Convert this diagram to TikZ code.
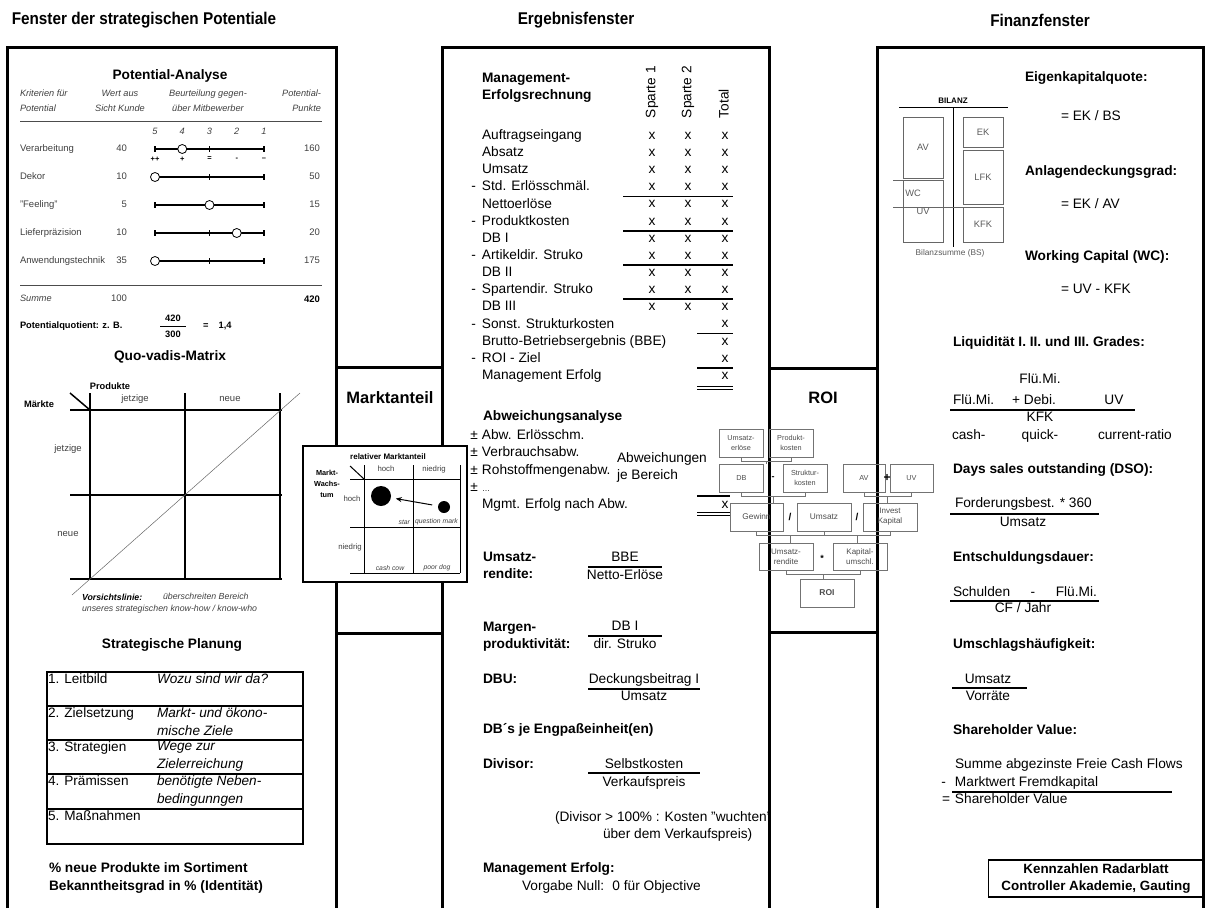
\documentclass[tikz,border=0pt]{standalone}
\usepackage{fontspec}
\setmainfont{Liberation Sans}
\newfontfamily\narrowfont{Liberation Sans}[FakeStretch=0.9]
\usetikzlibrary{arrows.meta,positioning,calc}
\newcommand\fsz[2]{\fontsize{#1}{#2}\selectfont}

\begin{document}
\begin{tikzpicture}[x=1pt,y=-1pt,
    every node/.style={inner sep=0pt,outer sep=0pt},
    wtitle/.style={font=\narrowfont\bfseries\fsz{17}{19}},
    panel/.style={line width=3pt},
    sub/.style={font=\bfseries\fsz{13.7}{16}},
    tx/.style={font=\fsz{13.7}{17},anchor=west,align=left,execute at begin node={\vphantom{Ag}}},
    hd/.style={font=\bfseries\fsz{13.7}{17},anchor=west,align=left,execute at begin node={\vphantom{Ag}}},
    sm/.style={font=\fsz{9.5}{15},text=black!75,execute at begin node={\vphantom{Ag}}},
    smi/.style={font=\itshape\fsz{9.2}{15},text=black!75,execute at begin node={\vphantom{Ag}}},
    smb/.style={font=\bfseries\fsz{9.3}{11}},
    tiny/.style={font=\itshape\fsz{6.8}{8},text=black!75},
    scl/.style={line width=1.2pt},
    dot/.style={circle,draw,fill=white,line width=0.8pt,minimum size=9pt},
    grid/.style={line width=1.5pt},
    tab/.style={line width=2pt},
    rule/.style={line width=1.5pt},
    roibox/.style={draw=black!55,line width=0.6pt,minimum width=44pt,minimum height=28pt,
                   align=center,font=\fsz{7.3}{9.5},text=black!70},
    brk/.style={draw=black!55,line width=0.6pt},
    bbox/.style={draw=black!60,line width=0.6pt,minimum width=40pt,font=\fsz{9.3}{10},text=black!65},
  ]
  \useasboundingbox (0,0) rectangle (1205,908);

  % window titles and frames
  \node[wtitle] (tpot) at (144,20) {Fenster der strategischen Potentiale};
  \node[wtitle] (terg) at (576,20) {Ergebnisfenster};
  \node[wtitle] (tfin) at (1040,20) {Finanzfenster};
  \draw[panel] (7,908) |- (336,47) -- (336,908);
  \draw[panel] (442,908) |- (769,47) -- (769,908);
  \draw[panel] (877,908) |- (1203,47) -- (1203,908);
  \draw[panel] (336,367) -- (442,367);
  \draw[panel] (336,633) -- (442,633);
  \draw[panel] (769,368) -- (877,368);
  \draw[panel] (769,632) -- (877,632);
  \node[font=\bfseries\fsz{16.5}{18}] (mkt) at (390,398) {Marktanteil};
  \node[font=\bfseries\fsz{16.5}{18}] (roit) at (823,398) {ROI};

  % Potential-Analyse
  \node[sub] (pa) at (170,76) {Potential-Analyse};
  \node[smi,anchor=west,align=left] (krit) at (20,102) {Kriterien für\\Potential};
  \node[smi,align=center] (wert) at (120,102) {Wert aus\\Sicht Kunde};
  \node[smi,align=center] (beur) at (208,102) {Beurteilung gegen-\\über Mitbewerber};
  \node[smi,anchor=east,align=right] (ppkt) at (321,102) {Potential-\\Punkte};
  \draw[black!70] (20,121) -- (322,121);
  \foreach \n [count=\i] in {5,4,3,2,1}
    \node[smi] (sc\i) at ({155+27.25*(\i-1)},132) {\n};
  \foreach \lab/\w/\p/\pk [count=\i] in {Verarbeitung/40/2/160, Dekor/10/1/50,
      "Feeling"/5/3/15, Lieferpräzision/10/4/20, Anwendungstechnik/35/1/175}{
    \pgfmathsetmacro\yy{149+28*(\i-1)}
    \node[sm,anchor=west] (kr\i) at (20,\yy) {\lab};
    \node[sm,anchor=east] (wk\i) at (127,\yy) {\w};
    \node[sm,anchor=east] (pp\i) at (320,\yy) {\pk};
    \draw[scl] (155,\yy) -- (264,\yy);
    \foreach \t in {1,3,5}
      \draw[scl] ({155+27.25*(\t-1)},{\yy-3}) -- ++(0,6);
    \node[dot] (ci\i) at ({155+27.25*(\p-1)},\yy) {};
  }
  \foreach \s [count=\i] in {++,+,=,-,--}
    \node[smb,font=\bfseries\fsz{7.5}{8}] (sy\i) at ({155+27.25*(\i-1)},159) {\s};
  \draw[black!70] (20,285) -- (322,285);
  \node[smi,anchor=west] (sum) at (20,299) {Summe};
  \node[sm,anchor=east] (sumw) at (127,299) {100};
  \node[smb,font=\bfseries\fsz{9.5}{10},anchor=east] (sump) at (320,299) {420};
  \node[smb,anchor=west] (pq) at (20,326) {Potentialquotient: z. B.};
  \node[smb] (pqz) at (173,318) {420};
  \node[smb] (pqn) at (173,334) {300};
  \draw[line width=1pt] (160,326) -- (186,326);
  \node[smb,anchor=west] (pqe) at (203,326) {=\hspace{1.1em}1,4};

  % Quo-vadis-Matrix
  \node[sub] (qv) at (170,357) {Quo-vadis-Matrix};
  \node[smb] (prod) at (110,386) {Produkte};
  \node[sm] (qj1) at (135,399) {jetzige};
  \node[sm] (qn1) at (230,399) {neue};
  \node[smb] (mae) at (39,404) {Märkte};
  \node[sm] (qj2) at (68,449) {jetzige};
  \node[sm] (qn2) at (68,534) {neue};
  \foreach \yy in {410,495,579} \draw[grid] (70,\yy) -- (282,\yy);
  \foreach \xx in {90,185,280} \draw[grid] (\xx,393) -- (\xx,579);
  \draw[grid] (70,393) -- (90,410);
  \draw[black!60,line width=0.5pt] (72,595) -- (300,393);
  \node[smb,font=\bfseries\itshape\fsz{8.8}{9},anchor=west] (vl) at (82,597) {Vorsichtslinie:};
  \node[smi,font=\itshape\fsz{8.8}{9},anchor=west] (vl2) at (163,597) {überschreiten Bereich};
  \node[smi,font=\itshape\fsz{8.8}{9},anchor=west] (vl3) at (82,609) {unseres strategischen know-how / know-who};

  % Strategische Planung
  \node[sub] (spl) at (172,645) {Strategische Planung};
  \draw[tab] (47,672) rectangle (303,844);
  \foreach \yy in {706,740,774,809} \draw[tab] (47,\yy) -- (303,\yy);
  \node[tx,font=\fsz{13.6}{18}] (st1) at (48,680) {1. Leitbild};
  \node[tx,font=\itshape\fsz{13.6}{18}] (sz1) at (157,680) {Wozu sind wir da?};
  \node[tx,font=\fsz{13.6}{18}] (st2) at (48,714) {2. Zielsetzung};
  \node[tx,font=\itshape\fsz{13.6}{18}] (sz2) at (157,722.5) {Markt- und ökono-\\mische Ziele};
  \node[tx,font=\fsz{13.6}{18}] (st3) at (48,748) {3. Strategien};
  \node[tx,font=\itshape\fsz{13.6}{18}] (sz3) at (157,756.5) {Wege zur\\Zielerreichung};
  \node[tx,font=\fsz{13.6}{18}] (st4) at (48,782) {4. Prämissen};
  \node[tx,font=\itshape\fsz{13.6}{18}] (sz4) at (157,790.5) {benötigte Neben-\\bedingunngen};
  \node[tx,font=\fsz{13.6}{18}] (st5) at (48,817) {5. Maßnahmen};
  \node[hd,font=\bfseries\fsz{13.7}{18}] (np) at (49,877.5)
    {\% neue Produkte im Sortiment\\Bekanntheitsgrad in \% (Identität)};

  % Marktanteil-Matrix
  \draw[line width=1.5pt,fill=white] (303,446) rectangle (467,582);
  \node[font=\bfseries\fsz{8}{9}] (rma) at (388,457) {relativer Marktanteil};
  \node[font=\bfseries\fsz{7.3}{11},align=center] (mw) at (327,484) {Markt-\\Wachs-\\tum};
  \node[font=\fsz{7.8}{9},text=black!75] (mh) at (386,469) {hoch};
  \node[font=\fsz{7.8}{9},text=black!75] (mn) at (434,469) {niedrig};
  \node[font=\fsz{7.8}{9},text=black!75] (wh) at (352,499) {hoch};
  \node[font=\fsz{7.8}{9},text=black!75] (wn) at (350,547) {niedrig};
  \foreach \yy in {479,527,573} \draw[line width=1pt] (350,\yy) -- (460,\yy);
  \foreach \xx in {364,413,460} \draw[line width=1pt] (\xx,465) -- (\xx,573);
  \draw[line width=1pt] (350,466) -- (364,479);
  \node[circle,fill,minimum size=20pt] (star) at (381,496) {};
  \node[circle,fill,minimum size=12pt] (qmk) at (444,507) {};
  \draw[-{Stealth[length=6pt,width=5pt]},line width=1pt,shorten <=6pt,shorten >=5pt] (qmk) -- (star);
  \node[tiny,anchor=east] (lst) at (410,522) {star};
  \node[tiny,anchor=west] (lqm) at (415,522) {question mark};
  \node[tiny] (lcc) at (390,568) {cash cow};
  \node[tiny] (lpd) at (437,568) {poor dog};

  % Management-Erfolgsrechnung
  \node[hd] (mer) at (482,87.5) {Management-\\Erfolgsrechnung};
  \node[tx,rotate=90] (sp1) at (652,118) {Sparte 1};
  \node[tx,rotate=90] (sp2) at (688,118) {Sparte 2};
  \node[tx,rotate=90] (tot) at (725,118) {Total};
  \foreach \lab/\m/\k [count=\i] in {
      Auftragseingang/0/3, Absatz/0/3, Umsatz/0/3, Std. Erlösschmäl./1/3,
      Nettoerlöse/0/3, Produktkosten/1/3, DB I/0/3, Artikeldir. Struko/1/3,
      DB II/0/3, Spartendir. Struko/1/3, DB III/0/3,
      Sonst. Strukturkosten/1/1, Brutto-Betriebsergebnis (BBE)/0/1,
      ROI - Ziel/1/1, Management Erfolg/0/1}{
    \pgfmathsetmacro\yy{136+17.15*(\i-1)}
    \ifnum\m=1 \def\pre{\llap{-\hspace{6pt}}}\else\def\pre{}\fi
    \node[tx] (er\i) at (482,\yy) {\pre\lab};
    \node[tx,anchor=center] (et\i) at (725,\yy) {x};
    \ifnum\k=3
      \node[tx,anchor=center] (ea\i) at (652,\yy) {x};
      \node[tx,anchor=center] (eb\i) at (688,\yy) {x};
    \fi
  }
  \foreach \yy in {196.5,231,265,299} \draw[rule] (623,\yy) -- (733,\yy);
  \foreach \yy in {333.5,368} \draw[rule] (697,\yy) -- (733,\yy);
  \draw[line width=0.9pt] (697,386.5) -- (733,386.5) (697,389.5) -- (733,389.5);

  % Abweichungsanalyse
  \node[hd] (abw) at (483,417) {Abweichungsanalyse};
  \node[tx] (ab1) at (482,436) {\llap{±\hspace{4pt}}Abw. Erlösschm.};
  \node[tx] (ab2) at (482,453.3) {\llap{±\hspace{4pt}}Verbrauchsabw.};
  \node[tx] (ab3) at (482,470.6) {\llap{±\hspace{4pt}}Rohstoffmengenabw.};
  \node[tx] (ab4) at (482,488) {\llap{±\hspace{4pt}}{\fsz{8}{10}\dots}};
  \node[tx] (mna) at (482,505) {Mgmt. Erfolg nach Abw.};
  \node[tx] (ajb) at (617,467.5) {Abweichungen\\je Bereich};
  \node[tx,anchor=center] (ax) at (725,505) {x};
  \draw[rule] (697,496) -- (730,496);
  \draw[line width=0.9pt] (697,512) -- (730,512) (697,515) -- (730,515);

  % Kennzahlen Ergebnisfenster
  \node[hd] (urd) at (483,566.5) {Umsatz-\\rendite:};
  \node[tx,anchor=center] (urz) at (625,558) {BBE};
  \node[tx,anchor=center] (urn) at (625,576) {Netto-Erlöse};
  \draw[rule] (588,567) -- (662,567);
  \node[hd] (mpr) at (483,637) {Margen-\\produktivität:};
  \node[tx,anchor=center] (mpz) at (625,627) {DB I};
  \node[tx,anchor=center] (mpn) at (625,645) {dir. Struko};
  \draw[rule] (588,636) -- (662,636);
  \node[hd] (dbu) at (483,680) {DBU:};
  \node[tx,anchor=center] (dbuz) at (644,680) {Deckungsbeitrag I};
  \node[tx,anchor=center] (dbun) at (644,697) {Umsatz};
  \draw[rule] (588,689) -- (700,689);
  \node[hd] (dbe) at (483,730) {DB´s je Engpaßeinheit(en)};
  \node[hd] (div) at (483,765) {Divisor:};
  \node[tx,anchor=center] (divz) at (644,765) {Selbstkosten};
  \node[tx,anchor=center] (divn) at (644,783) {Verkaufspreis};
  \draw[rule] (588,773) -- (700,773);
  \node[tx] (dvb1) at (555,818) {(Divisor > 100\% : Kosten "wuchten"};
  \node[tx] (dvb2) at (603,835) {über dem Verkaufspreis)};
  \node[hd] (mge) at (483,869) {Management Erfolg:};
  \node[tx] (mgv) at (522,887) {Vorgabe Null:\hspace{0.6em}0 für Objective};

  % ROI-Baum
  \node[roibox] (ue) at (741,443) {Umsatz-\\erlöse};
  \node[roibox] (pk) at (791,443) {Produkt-\\kosten};
  \node[roibox] (db) at (741.5,478) {DB};
  \node[roibox] (sk) at (805,478) {Struktur-\\kosten};
  \node[roibox,minimum width=42pt] (av) at (864,478) {AV};
  \node[roibox,minimum width=43pt] (uv) at (911.5,478) {UV};
  \node[roibox,minimum width=53pt,font=\fsz{8.3}{10}] (gw) at (756.5,517) {Gewinn};
  \node[roibox,minimum width=54pt,font=\fsz{8.3}{10}] (us) at (824,517) {Umsatz};
  \node[roibox,minimum width=54pt,font=\fsz{8}{10}] (ik) at (890,517) {Invest\\Kapital};
  \node[roibox,minimum width=54pt,minimum height=27pt,font=\fsz{8}{10}] (ur) at (786,556.5) {Umsatz-\\rendite};
  \node[roibox,minimum width=54pt,minimum height=27pt,font=\fsz{8}{10}] (ku) at (860,556.5) {Kapital-\\umschl.};
  \node[roibox,minimum width=54pt,font=\bfseries\fsz{8.5}{10}] (roi) at (827,593) {ROI};
  \node[font=\bfseries\fsz{9}{10}] (op1) at (773,478) {-};
  \node[font=\bfseries\fsz{12}{12}] (op2) at (887,478) {+};
  \node[font=\bfseries\fsz{10}{10}] (op3) at (790,517) {/};
  \node[font=\bfseries\fsz{10}{10}] (op4) at (857,517) {/};
  \node[font=\bfseries\fsz{9}{10}] (op5) at (822,558) {*};
  \foreach \a/\b/\c in {ue/pk/db, db/sk/gw, av/uv/ik, gw/us/ur, us/ik/ku, ur/ku/roi}{
    \draw[brk] (\a.south) -- ++(0,4) -| (\b.south);
    \draw[brk] ($(\a.south)!.5!(\b.south)+(0,4)$) coordinate (m\c) -- (m\c |- \c.north);
  }

  % Bilanz
  \node[font=\bfseries\fsz{8}{9}] (bil) at (953,101) {BILANZ};
  \draw[thick] (899,107) -- (1008,107);
  \draw[thick] (953,107) -- (953,247);
  \node[bbox,minimum height=61pt] (bav) at (923,147.5) {AV};
  \node[bbox,minimum height=62pt] (buv) at (923,211) {UV};
  \node[bbox,minimum height=30pt] (bek) at (983,132) {EK};
  \node[bbox,minimum height=54pt] (blfk) at (983,177) {LFK};
  \node[bbox,minimum height=35pt] (bkfk) at (983,224.5) {KFK};
  \draw[black!60,line width=0.6pt] (893,180) -- (buv.north east);
  \draw[black!60,line width=0.6pt] (893,207) -- (bkfk.north east);
  \node[bbox,draw=none,anchor=west] (wcl) at (893,193) {WC};
  \node[bbox,draw=none,font=\fsz{8.3}{9}] (bsum) at (950,253) {Bilanzsumme (BS)};

  % Finanzkennzahlen
  \node[hd] (ekq) at (1025,78) {Eigenkapitalquote:};
  \node[tx] (ekqf) at (1061,117) {= EK / BS};
  \node[hd] (adg) at (1025,172) {Anlagendeckungsgrad:};
  \node[tx] (adgf) at (1061,205) {= EK / AV};
  \node[hd] (wcg) at (1025,257) {Working Capital (WC):};
  \node[tx] (wcf) at (1061,290) {= UV - KFK};
  \node[hd] (liq) at (953,343) {Liquidität I. II. und III. Grades:};
  \node[tx,anchor=center] (lq1) at (1040,380) {Flü.Mi.};
  \node[tx] (lq2) at (953,401) {Flü.Mi.};
  \node[tx,anchor=center] (lq3) at (1034,401) {+ Debi.};
  \node[tx,anchor=center] (lq4) at (1114,401) {UV};
  \draw[rule] (950,410) -- (1135,410);
  \node[tx,anchor=center] (lq5) at (1040,418) {KFK};
  \node[tx] (lq6) at (952,436) {cash-};
  \node[tx,anchor=center] (lq7) at (1040,436) {quick-};
  \node[tx] (lq8) at (1098,436) {current-ratio};
  \node[hd] (dso) at (953,470) {Days sales outstanding (DSO):};
  \node[tx] (dsoz) at (955,504) {Forderungsbest. * 360};
  \draw[rule] (950,514) -- (1099,514);
  \node[tx,anchor=center] (dson) at (1023,523) {Umsatz};
  \node[hd] (esd) at (953,558) {Entschuldungsdauer:};
  \node[tx] (esdz) at (953,593) {Schulden\hspace{1.5em}-\hspace{1.5em}Flü.Mi.};
  \draw[rule] (950,601) -- (1099,601);
  \node[tx,anchor=center] (esdn) at (1023,609) {CF / Jahr};
  \node[hd] (uhk) at (953,645) {Umschlagshäufigkeit:};
  \node[tx,anchor=center] (uhz) at (988,680) {Umsatz};
  \draw[rule] (952,688) -- (1027,688);
  \node[tx,anchor=center] (uhn) at (988,697) {Vorräte};
  \node[hd] (shv) at (953,731) {Shareholder Value:};
  \node[tx] (sh1) at (955,765) {Summe abgezinste Freie Cash Flows};
  \node[tx] (sh2) at (955,783) {\llap{-\hspace{9pt}}Marktwert Fremdkapital};
  \draw[rule] (952,792) -- (1172,792);
  \node[tx] (sh3) at (955,800) {\llap{=\hspace{5pt}}Shareholder Value};
  \node[draw,line width=1.6pt,minimum width=215pt,minimum height=37pt,align=center,
        font=\bfseries\fsz{13.4}{17}] (kz) at (1096,878.5)
        {Kennzahlen Radarblatt\\Controller Akademie, Gauting};
\end{tikzpicture}
\end{document}
